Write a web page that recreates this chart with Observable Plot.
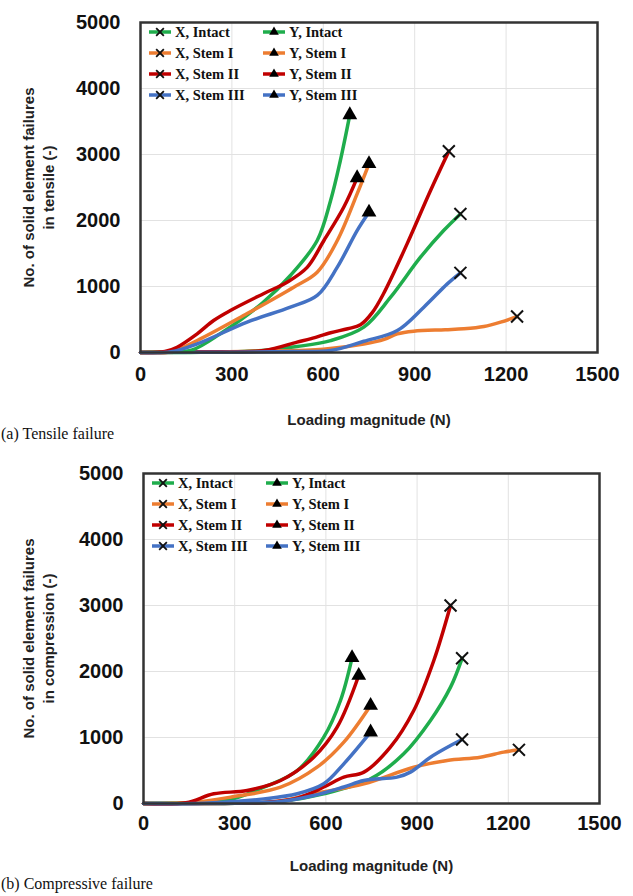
<!DOCTYPE html>
<html><head><meta charset="utf-8">
<script src="https://cdn.jsdelivr.net/npm/d3@7"></script>
<script src="https://cdn.jsdelivr.net/npm/@observablehq/plot@0.6"></script>
<style>
body{margin:0;background:#fff;width:633px;}
.cap{font-family:"Liberation Serif","Times New Roman",serif;font-size:16px;height:24px;line-height:16px;padding-left:1px;color:#111;position:relative;}
svg{display:block;overflow:visible;}
</style></head><body>
<div id="a"></div><div class="cap">(a) Tensile failure</div>
<div id="b"></div><div class="cap">(b) Compressive failure</div>
<script>
// ---- categories / labels ----
const stems = ["Intact", "Stem I", "Stem II", "Stem III"];
const directions = ["X", "Y"];
const stemColors = ["#1fad4c", "#ed7d31", "#c00000", "#4472c4"];
const xTicks = [0, 300, 600, 900, 1200, 1500];
const yTicks = [0, 1000, 2000, 3000, 4000, 5000];
const xTitle = "Loading magnitude (N)";
const yTitleTensile = "No. of solid element failures\nin tensile (-)";
const yTitleCompress = "No. of solid element failures\nin compression (-)";

// ---- (a) tensile: loading (N) and failures ----
const tenXIntactLoad = [0, 200, 400, 514, 624, 733, 821, 919, 995, 1050];
const tenXIntactFail = [0, 5, 30, 90, 180, 384, 838, 1444, 1848, 2100];
const tenXStem1Load = [0, 200, 400, 600, 733, 800, 843, 897, 1000, 1061, 1127, 1182, 1236];
const tenXStem1Fail = [0, 5, 20, 50, 130, 200, 283, 323, 345, 359, 394, 460, 545];
const tenXStem2Load = [0, 200, 405, 514, 560, 624, 680, 722, 760, 798, 875, 952, 1012];
const tenXStem2Fail = [0, 10, 30, 157, 210, 300, 360, 420, 600, 894, 1646, 2455, 3050];
const tenXStem3Load = [0, 300, 500, 624, 733, 843, 930, 1007, 1050];
const tenXStem3Fail = [0, 5, 15, 30, 170, 333, 687, 1040, 1207];
const tenYIntactLoad = [0, 100, 170, 263, 400, 492, 580, 624, 656, 687];
const tenYIntactFail = [0, 10, 40, 288, 750, 1167, 1697, 2303, 2909, 3600];
const tenYStem1Load = [0, 100, 186, 350, 503, 580, 646, 711, 750];
const tenYStem1Fail = [0, 10, 182, 590, 990, 1217, 1697, 2404, 2859];
const tenYStem2Load = [0, 80, 120, 186, 240, 295, 405, 481, 547, 602, 667, 711];
const tenYStem2Fail = [0, 15, 80, 283, 485, 636, 894, 1065, 1290, 1697, 2200, 2646];
const tenYStem3Load = [0, 100, 186, 350, 492, 580, 646, 711, 750];
const tenYStem3Fail = [0, 10, 130, 460, 687, 864, 1293, 1848, 2126];

// ---- (b) compressive ----
const comXIntactLoad = [0, 300, 450, 593, 747, 856, 944, 1010, 1048];
const comXIntactFail = [0, 5, 30, 147, 374, 753, 1258, 1763, 2200];
const comXStem1Load = [0, 300, 450, 560, 725, 889, 999, 1108, 1185, 1235];
const comXStem1Fail = [0, 5, 40, 150, 298, 550, 652, 702, 778, 813];
const comXStem2Load = [0, 300, 400, 506, 593, 659, 725, 812, 889, 955, 1010];
const comXStem2Fail = [0, 5, 15, 80, 250, 400, 475, 853, 1409, 2167, 3000];
const comXStem3Load = [0, 300, 450, 560, 659, 725, 834, 878, 944, 1010, 1048];
const comXStem3Fail = [0, 5, 30, 120, 250, 348, 399, 475, 702, 879, 970];
const comYIntactLoad = [0, 200, 300, 396, 506, 593, 648, 686];
const comYIntactFail = [0, 20, 80, 247, 500, 1005, 1561, 2207];
const comYStem1Load = [0, 150, 286, 451, 571, 659, 747];
const comYStem1Fail = [0, 10, 96, 247, 550, 929, 1485];
const comYStem2Load = [0, 140, 231, 341, 451, 560, 637, 708];
const comYStem2Fail = [0, 10, 147, 197, 348, 702, 1156, 1939];
const comYStem3Load = [0, 200, 396, 506, 593, 659, 747];
const comYStem3Fail = [0, 5, 70, 147, 298, 601, 1081];

function build(list) {
  const rows = [];
  list.forEach(([dir, stem, L, F]) => {
    L.forEach((x, i) => rows.push({dir, stem, key: dir + ", " + stem, x, y: F[i], last: i === L.length - 1}));
  });
  return rows;
}
const tensile = build([
  ["X", "Intact", tenXIntactLoad, tenXIntactFail], ["X", "Stem I", tenXStem1Load, tenXStem1Fail],
  ["X", "Stem II", tenXStem2Load, tenXStem2Fail], ["X", "Stem III", tenXStem3Load, tenXStem3Fail],
  ["Y", "Intact", tenYIntactLoad, tenYIntactFail], ["Y", "Stem I", tenYStem1Load, tenYStem1Fail],
  ["Y", "Stem II", tenYStem2Load, tenYStem2Fail], ["Y", "Stem III", tenYStem3Load, tenYStem3Fail]
]);
const compress = build([
  ["X", "Intact", comXIntactLoad, comXIntactFail], ["X", "Stem I", comXStem1Load, comXStem1Fail],
  ["X", "Stem II", comXStem2Load, comXStem2Fail], ["X", "Stem III", comXStem3Load, comXStem3Fail],
  ["Y", "Intact", comYIntactLoad, comYIntactFail], ["Y", "Stem I", comYStem1Load, comYStem1Fail],
  ["Y", "Stem II", comYStem2Load, comYStem2Fail], ["Y", "Stem III", comYStem3Load, comYStem3Fail]
]);

function chart(data, yTitle, m) {
  const lastPts = data.filter(d => d.last);
  const svg = Plot.plot({
    width: 633, height: 426,
    marginTop: m.top, marginBottom: 426 - m.bottom, marginLeft: m.left, marginRight: 633 - m.right,
    style: {fontFamily: "'Liberation Sans', Arial, sans-serif", fontSize: "20px", fontWeight: "bold", color: "#111", background: "transparent", overflow: "visible"},
    x: {domain: [0, 1500], ticks: xTicks},
    y: {domain: [0, 5000], ticks: yTicks},
    color: {domain: stems, range: stemColors},
    marks: [
      Plot.gridX(xTicks.slice(1, -1), {stroke: "#e2e2e2", strokeOpacity: 1, strokeWidth: 1}),
      Plot.gridY(yTicks.slice(1, -1), {stroke: "#e2e2e2", strokeOpacity: 1, strokeWidth: 1}),
      Plot.axisX(xTicks, {tickSize: 0, tickPadding: m.xPad, tickFormat: d3.format("d"), label: null, fontSize: 20, fontWeight: "bold"}),
      Plot.axisY(yTicks, {tickSize: 0, tickPadding: 20, tickFormat: d3.format("d"), label: null, fontSize: 20, fontWeight: "bold"}),
      Plot.line(data, {x: "x", y: "y", z: "key", stroke: "stem", strokeWidth: 3.5, curve: "catmull-rom"}),
      Plot.dot(lastPts.filter(d => d.dir === "X"), {x: "x", y: "y", symbol: "times", r: 5.5, stroke: "#111", strokeWidth: 2}),
      Plot.dot(lastPts.filter(d => d.dir === "Y"), {x: "x", y: "y", symbol: "triangle", r: 5.5, fill: "#000", stroke: "none"}),
      Plot.frame({stroke: "#333", strokeWidth: 2.5}),
      Plot.text([xTitle], {frameAnchor: "bottom", lineAnchor: "middle", textAnchor: "middle", dy: m.titleDy, fontSize: 15, fontWeight: "bold", fill: "#222"}),
      Plot.text([yTitle], {frameAnchor: "left", lineAnchor: "middle", textAnchor: "middle", dx: -(m.left - 37), rotate: -90, fontSize: 15, fontWeight: "bold", lineHeight: 1.35, fill: "#222"})
    ]
  });
  // in-plot legend (2 columns x 4 rows)
  const g = d3.select(svg).append("g").attr("text-anchor", "start");
  const cols = [m.legX, m.legX + 114];
  directions.forEach((dir, c) => {
    stems.forEach((stem, r) => {
      const y = m.legY + r * 21;
      const x0 = cols[c];
      g.append("line").attr("x1", x0).attr("x2", x0 + 22).attr("y1", y).attr("y2", y)
        .attr("stroke", stemColors[r]).attr("stroke-width", 3.5);
      if (dir === "X") {
        g.append("path").attr("d", d3.symbol(d3.symbolTimes, 40)()).attr("transform", `translate(${x0 + 11},${y})`)
          .attr("stroke", "#111").attr("stroke-width", 1.8).attr("fill", "none");
      } else {
        g.append("path").attr("d", d3.symbol(d3.symbolTriangle, 40)()).attr("transform", `translate(${x0 + 11},${y})`)
          .attr("fill", "#000");
      }
      g.append("text").attr("x", x0 + 26).attr("y", y).attr("dy", "0.35em").attr("text-anchor", "start")
        .attr("font-family", "'Liberation Serif','Times New Roman',serif").attr("font-size", 14.5)
        .attr("font-weight", "bold").attr("fill", "#111").text(dir + ", " + stem);
    });
  });
  return svg;
}

document.getElementById("a").appendChild(
  chart(tensile, yTitleTensile, {top: 22, bottom: 352, left: 140, right: 597, xPad: 14, legX: 149, legY: 32, titleDy: 68}));
document.getElementById("b").appendChild(
  chart(compress, yTitleCompress, {top: 23, bottom: 353, left: 143, right: 599, xPad: 12, legX: 152, legY: 33, titleDy: 63}));
</script>
</body></html>
